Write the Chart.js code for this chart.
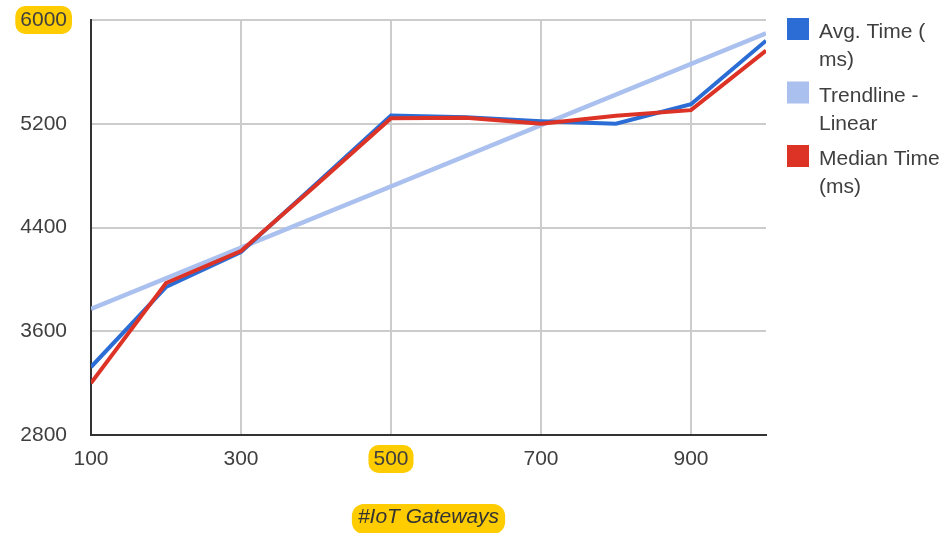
<!DOCTYPE html>
<html>
<head>
<meta charset="utf-8">
<script src="https://cdn.jsdelivr.net/npm/chart.js@4"></script>
<style>
  html, body { margin: 0; padding: 0; background: #fff; }
  #wrap { width: 949px; height: 533px; position: relative; }
</style>
</head>
<body>
<div id="wrap"><canvas id="chart"></canvas></div>
<script>
// data
const gateways = [100, 200, 300, 400, 500, 600, 700, 800, 900, 1000];
const avgTime = [3324, 3941, 4211, 4735, 5264, 5250, 5220, 5200, 5350, 5840];
const medianTime = [3200, 3972, 4219, 4725, 5242, 5246, 5200, 5262, 5305, 5764];
const trendX = [100, 1000];
const trendY = [3772, 5898];
const xTicks = [100, 300, 500, 700, 900];
const yTicks = [2800, 3600, 4400, 5200, 6000];
const highlightedX = [500];
const highlightedY = [6000];
const xTitle = '#IoT Gateways';

const seriesColors = ['#2b6dd4', '#aac0ee', '#dc3326'];
const legendLines = [['Avg. Time (', 'ms)'], ['Trendline -', 'Linear'], ['Median Time', '(ms)']];

const FONT = 'Arial, "Liberation Sans", sans-serif';
const TEXT = '#3f3f3f';
const HILITE = '#ffcc00';

const toPoints = (xs, ys) => xs.map((x, i) => ({ x: x, y: ys[i] }));

function roundRect(ctx, x, y, w, h, r) {
  ctx.beginPath();
  ctx.moveTo(x + r, y);
  ctx.arcTo(x + w, y, x + w, y + h, r);
  ctx.arcTo(x + w, y + h, x, y + h, r);
  ctx.arcTo(x, y + h, x, y, r);
  ctx.arcTo(x, y, x + w, y, r);
  ctx.closePath();
  ctx.fill();
}

// yellow marker boxes behind some labels
const highlightPlugin = {
  id: 'highlights',
  beforeDraw(chart) {
    const ctx = chart.ctx;
    const xs = chart.scales.x, ys = chart.scales.y;
    ctx.save();
    ctx.fillStyle = HILITE;
    ctx.font = '21px ' + FONT;
    highlightedY.forEach(v => {
      const w = ctx.measureText(String(v)).width;
      const right = ys.right - 24;
      const cy = ys.getPixelForValue(v);
      roundRect(ctx, right - w - 5, cy - 14, w + 10, 28, 10);
    });
    highlightedX.forEach(v => {
      const w = ctx.measureText(String(v)).width;
      const cx = xs.getPixelForValue(v);
      roundRect(ctx, cx - w / 2 - 5, 445, w + 10, 28, 10);
    });
    ctx.font = 'italic 21px ' + FONT;
    const tw = ctx.measureText(xTitle).width;
    const cx = (chart.chartArea.left + chart.chartArea.right) / 2;
    roundRect(ctx, cx - tw / 2 - 6, 504, tw + 12, 30, 12);
    ctx.restore();
  }
};

// legend with wrapped lines, like the original
const sideLegend = {
  id: 'sideLegend',
  afterDraw(chart) {
    const ctx = chart.ctx;
    ctx.save();
    ctx.font = '21px ' + FONT;
    ctx.textBaseline = 'alphabetic';
    legendLines.forEach((lines, i) => {
      const top = 18 + i * 63.5;
      ctx.fillStyle = seriesColors[i];
      ctx.fillRect(787, top, 22, 22);
      ctx.fillStyle = TEXT;
      lines.forEach((t, j) => ctx.fillText(t, 819, top + 20 + j * 28));
    });
    ctx.restore();
  }
};

new Chart(document.getElementById('chart'), {
  type: 'line',
  data: {
    datasets: [
      {
        label: 'Median Time (ms)',
        data: toPoints(gateways, medianTime),
        borderColor: seriesColors[2],
        borderWidth: 4,
        pointRadius: 0,
        tension: 0,
        order: 0
      },
      {
        label: 'Avg. Time (ms)',
        data: toPoints(gateways, avgTime),
        borderColor: seriesColors[0],
        borderWidth: 4,
        pointRadius: 0,
        tension: 0,
        order: 1
      },
      {
        label: 'Trendline - Linear',
        data: toPoints(trendX, trendY),
        borderColor: seriesColors[1],
        borderWidth: 4.5,
        pointRadius: 0,
        tension: 0,
        order: 2
      }
    ]
  },
  options: {
    responsive: true,
    maintainAspectRatio: false,
    animation: false,
    layout: { padding: { left: 0, top: 20, right: 183, bottom: 0 } },
    plugins: {
      legend: { display: false },
      tooltip: { enabled: false }
    },
    scales: {
      x: {
        type: 'linear',
        min: 100,
        max: 1000,
        afterBuildTicks: s => { s.ticks = xTicks.map(v => ({ value: v })); },
        afterFit: s => { s.height = 98; s.paddingLeft = 0; s.paddingRight = 0; },
        grid: { color: '#cccccc', lineWidth: 2, drawTicks: false },
        border: { color: '#333333', width: 2 },
        ticks: { color: TEXT, font: { family: FONT, size: 21 }, padding: 12, maxRotation: 0, callback: v => String(v) },
        title: {
          display: true,
          text: xTitle,
          color: '#333',
          font: { family: FONT, size: 21, style: 'italic' },
          padding: { top: 0, bottom: 3 }
        }
      },
      y: {
        min: 2800,
        max: 6000,
        afterBuildTicks: s => { s.ticks = yTicks.map(v => ({ value: v })); },
        afterFit: s => { s.width = 91; s.paddingTop = 0; s.paddingBottom = 0; },
        grid: { color: '#cccccc', lineWidth: 2, drawTicks: false },
        border: { color: '#333333', width: 2 },
        ticks: { color: TEXT, font: { family: FONT, size: 21 }, padding: 24, callback: v => String(v) }
      }
    }
  },
  plugins: [highlightPlugin, sideLegend]
});
</script>
</body>
</html>
